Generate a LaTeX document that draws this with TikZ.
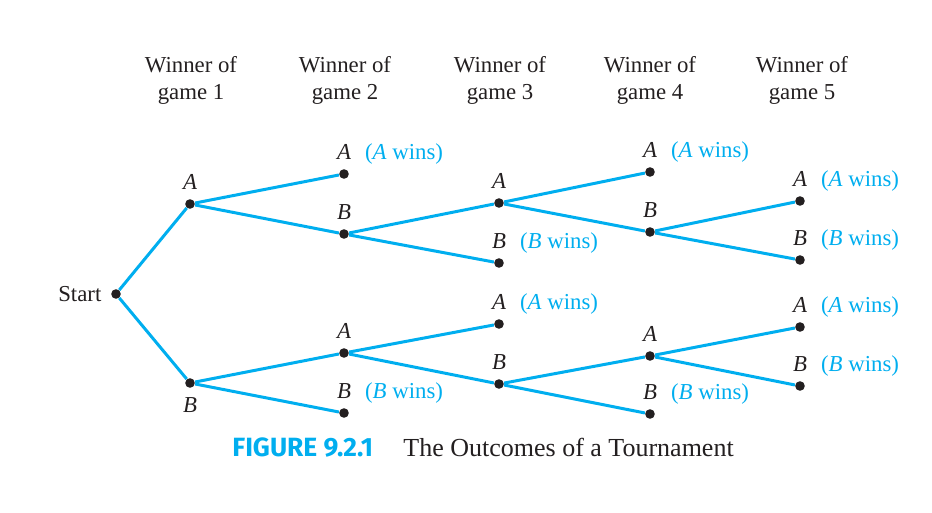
\documentclass[tikz,border=0pt]{standalone}
\usepackage{fontspec}
\setmainfont{Liberation Serif}
\newfontfamily\figfont{Fira Sans}
\usepackage{tikz}
\usetikzlibrary{positioning,calc}
\definecolor{TreeCyan}{RGB}{0,174,239}
\definecolor{DotBlack}{RGB}{35,31,32}
\tikzset{dot/.style={circle,fill=DotBlack,inner sep=0pt,minimum size=4.8pt},
  branch/.style={draw=TreeCyan,line width=1.5pt},
  lab/.style={font=\fontsize{11.4}{13.5}\selectfont\itshape,text=DotBlack},
  wins/.style={font=\fontsize{11.4}{13.5}\selectfont,text=TreeCyan,anchor=base west},
  head/.style={font=\fontsize{11.4}{13.5}\selectfont,text=DotBlack,align=center},
  every label/.style={lab},label distance=1.2pt}

\begin{document}
\begin{tikzpicture}[x=0.5pt,y=-0.5pt]
\useasboundingbox (0,0) rectangle (932,513);
% column heads
\node[head] (h1) at (191,80) {Winner of\\game 1};
\node[head] (h2) at (345,80) {Winner of\\game 2};
\node[head] (h3) at (500,80) {Winner of\\game 3};
\node[head] (h4) at (650,80) {Winner of\\game 4};
\node[head] (h5) at (802,80) {Winner of\\game 5};
% start and game 1
\node[dot,label={[font=\fontsize{11.4}{13.5}\selectfont]left:Start}] (start) at (116,294) {};
\node[dot,label={above:A}] (a) at (190,204) {};
\node[dot,label={below:B}] (b) at (190,383) {};
% game 2
\node[dot,label={[name=aal]above:A}] (aa) at (344,174) {};
\node[dot,label={above:B}] (ab) at (344,234) {};
\node[dot,label={above:A}] (ba) at (344,353) {};
\node[dot,label={[name=bbl]above:B}] (bb) at (344,413) {};
% game 3
\node[dot,label={above:A}] (aba) at (499,203) {};
\node[dot,label={[name=abbl]above:B}] (abb) at (499,263) {};
\node[dot,label={[name=baal]above:A}] (baa) at (499,324) {};
\node[dot,label={above:B}] (bab) at (499,384) {};
% game 4
\node[dot,label={[name=abaal]above:A}] (abaa) at (650,172) {};
\node[dot,label={above:B}] (abab) at (650,232) {};
\node[dot,label={above:A}] (baba) at (650,356) {};
\node[dot,label={[name=babbl]above:B}] (babb) at (650,414) {};
% game 5
\node[dot,label={[name=ababal]above:A}] (ababa) at (800,201) {};
\node[dot,label={[name=ababbl]above:B}] (ababb) at (800,260) {};
\node[dot,label={[name=babaal]above:A}] (babaa) at (800,327) {};
\node[dot,label={[name=bababl]above:B}] (babab) at (800,386) {};
% who wins
\node[wins] (aaw) at (aal.base east) {(\textit{A} wins)};
\node[wins] (bbw) at (bbl.base east) {(\textit{B} wins)};
\node[wins] (abbw) at (abbl.base east) {(\textit{B} wins)};
\node[wins] (baaw) at (baal.base east) {(\textit{A} wins)};
\node[wins] (abaaw) at (abaal.base east) {(\textit{A} wins)};
\node[wins] (babbw) at (babbl.base east) {(\textit{B} wins)};
\node[wins] (ababaw) at (ababal.base east) {(\textit{A} wins)};
\node[wins] (ababbw) at (ababbl.base east) {(\textit{B} wins)};
\node[wins] (babaaw) at (babaal.base east) {(\textit{A} wins)};
\node[wins] (bababw) at (bababl.base east) {(\textit{B} wins)};
% branches
\draw[branch] (start)--(a);
\draw[branch] (start)--(b);
\draw[branch] (a)--(aa);
\draw[branch] (a)--(ab);
\draw[branch] (b)--(ba);
\draw[branch] (b)--(bb);
\draw[branch] (ab)--(aba);
\draw[branch] (ab)--(abb);
\draw[branch] (ba)--(baa);
\draw[branch] (ba)--(bab);
\draw[branch] (aba)--(abaa);
\draw[branch] (aba)--(abab);
\draw[branch] (bab)--(baba);
\draw[branch] (bab)--(babb);
\draw[branch] (abab)--(ababa);
\draw[branch] (abab)--(ababb);
\draw[branch] (baba)--(babaa);
\draw[branch] (baba)--(babab);
% caption
\node[anchor=base west,inner sep=0pt,text=TreeCyan,font=\figfont\bfseries\fontsize{13.2}{16}\selectfont] (fig) at (232,456) {FIGURE 9.2.1};
\node[anchor=base west,inner sep=0pt,text=DotBlack,font=\fontsize{13}{16}\selectfont] (cap) at (403,456) {The Outcomes of a Tournament};
\end{tikzpicture}
\end{document}
